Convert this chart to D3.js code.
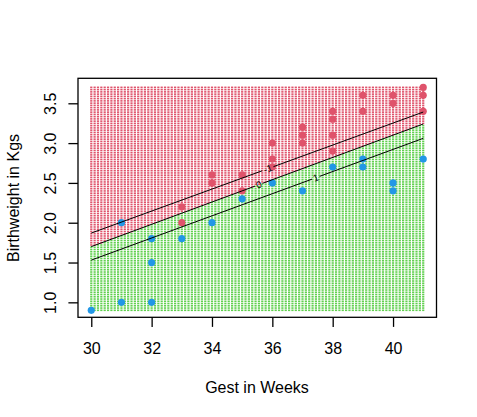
<!DOCTYPE html>
<html>
<head>
<meta charset="utf-8">
<script src="https://cdn.jsdelivr.net/npm/d3@7"></script>
<style>
  body { margin: 0; background: #fff; }
  text { font-family: "Liberation Sans", Arial, sans-serif; }
</style>
</head>
<body>
<div id="chart"></div>
<script>
// observed points, split by class
const redGest   = [33, 33, 34, 34, 35, 35, 36, 36, 36, 37, 37, 37, 38, 38, 38, 38, 39, 39, 40, 40, 41, 41, 41];
const redWeight = [2.2, 2.0, 2.6, 2.5, 2.6, 2.4, 3.0, 2.8, 2.7, 3.2, 3.1, 3.0, 3.4, 3.3, 3.1, 2.9, 3.6, 3.4, 3.6, 3.5, 3.7, 3.6, 3.4];
const blueGest   = [30, 31, 31, 32, 32, 32, 33, 34, 35, 36, 37, 38, 39, 39, 40, 40, 41];
const blueWeight = [0.9, 2.0, 1.0, 1.8, 1.5, 1.0, 1.8, 2.0, 2.3, 2.5, 2.4, 2.7, 2.8, 2.7, 2.5, 2.4, 2.8];

// decision value contours (-1, 0, 1), weight at gest 30 and at gest 41
const levelNames = ["-1", "0", "1"];
const levelAt30  = [1.87, 1.70, 1.53];
const levelAt41  = [3.39, 3.24, 3.06];
const labelGest  = [35.85, 35.55, 37.44];

const xTicks = [30, 32, 34, 36, 38, 40];
const yTicks = [1.0, 1.5, 2.0, 2.5, 3.0, 3.5];

// prediction grid (100 x 100 over the data range)
const gridGest   = d3.range(100).map(i => 30 + i * 11 / 99);
const gridWeight = d3.range(100).map(i => 0.9 + i * 2.8 / 99);

const red = "#DF536B", green = "#61D04F", blue = "#2297E6";

const width = 477, height = 417;
const svg = d3.select("#chart").append("svg")
  .attr("width", width)
  .attr("height", height);

const x = d3.scaleLinear().domain([29.56, 41.44]).range([78, 436.5]);
const y = d3.scaleLinear().domain([0.812, 3.814]).range([317.3, 78.3]);

const boundary = g => levelAt30[1] + (levelAt41[1] - levelAt30[1]) * (g - 30) / 11;

const cells = [];
gridGest.forEach(g => gridWeight.forEach(w => cells.push({ g, w })));

svg.append("g").selectAll("rect")
  .data(cells)
  .join("rect")
  .attr("x", d => x(d.g) - 1.1)
  .attr("y", d => y(d.w) - 0.8)
  .attr("width", 2.2)
  .attr("height", 1.6)
  .attr("fill", d => d.w > boundary(d.g) ? red : green);

const pts = redGest.map((g, i) => ({ g, w: redWeight[i], c: red }))
  .concat(blueGest.map((g, i) => ({ g, w: blueWeight[i], c: blue })));

svg.append("g").selectAll("circle")
  .data(pts)
  .join("circle")
  .attr("cx", d => x(d.g))
  .attr("cy", d => y(d.w))
  .attr("r", 3.6)
  .attr("fill", d => d.c);

// contour lines with a gap where the label sits
const contours = svg.append("g");
levelNames.forEach((name, i) => {
  const wAt = g => levelAt30[i] + (levelAt41[i] - levelAt30[i]) * (g - 30) / 11;
  const ang = Math.atan2(y(levelAt41[i]) - y(levelAt30[i]), x(41) - x(30));
  const half = (name.length > 1 ? 6 : 4) * Math.cos(ang);
  const lg = labelGest[i];
  const gL = x.invert(x(lg) - half), gR = x.invert(x(lg) + half);
  const line = d3.line().x(d => x(d)).y(d => y(wAt(d)));
  contours.append("path").attr("d", line([30, gL])).attr("fill", "none").attr("stroke", "#000").attr("stroke-width", 1);
  contours.append("path").attr("d", line([gR, 41])).attr("fill", "none").attr("stroke", "#000").attr("stroke-width", 1);
  contours.append("text")
    .attr("transform", `translate(${x(lg)},${y(wAt(lg))}) rotate(${ang * 180 / Math.PI})`)
    .attr("text-anchor", "middle")
    .attr("dy", "0.35em")
    .attr("font-size", 9.6)
    .text(name);
});

// box
svg.append("rect")
  .attr("x", 78).attr("y", 78.3)
  .attr("width", 436.5 - 78).attr("height", 317.3 - 78.3)
  .attr("fill", "none").attr("stroke", "#000").attr("stroke-width", 1.3);

const xAxis = svg.append("g")
  .attr("transform", "translate(0,317.3)")
  .call(d3.axisBottom(x).tickValues(xTicks).tickSize(9.6).tickFormat(d3.format("d")));
xAxis.select(".domain").remove();
xAxis.selectAll("line").attr("stroke-width", 1.3);
xAxis.selectAll("text")
  .attr("y", 37).attr("dy", null)
  .attr("font-size", 16).attr("fill", "#000")
  .style("font-family", '"Liberation Sans", Arial, sans-serif');

const yAxis = svg.append("g")
  .attr("transform", "translate(78,0)")
  .call(d3.axisLeft(y).tickValues(yTicks).tickSize(9.6).tickFormat(d3.format(".1f")));
yAxis.select(".domain").remove();
yAxis.selectAll("line").attr("stroke-width", 1.3);
yAxis.selectAll("text")
  .attr("x", null).attr("dy", null)
  .attr("transform", "translate(-22.5,0) rotate(-90)")
  .attr("text-anchor", "middle")
  .attr("font-size", 16).attr("fill", "#000")
  .style("font-family", '"Liberation Sans", Arial, sans-serif');

svg.append("text")
  .attr("x", 257).attr("y", 392.7)
  .attr("text-anchor", "middle")
  .attr("font-size", 16)
  .text("Gest in Weeks");

svg.append("text")
  .attr("transform", "translate(18.5,198) rotate(-90)")
  .attr("text-anchor", "middle")
  .attr("font-size", 16)
  .text("Birthweight in Kgs");
</script>
</body>
</html>
